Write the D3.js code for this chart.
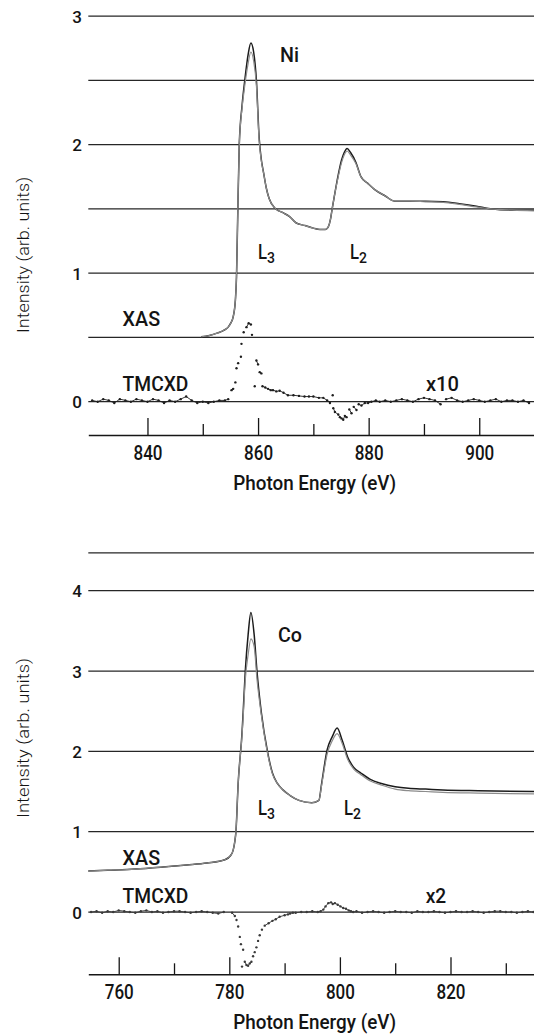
<!DOCTYPE html>
<html><head><meta charset="utf-8">
<script src="https://cdn.jsdelivr.net/npm/d3@7"></script>
<style>
html,body{margin:0;padding:0;background:#fff;}
svg{display:block;}
text{font-family:Roboto,"Open Sans",sans-serif;fill:#141414;}
</style></head>
<body>
<svg id="chart" width="534" height="1035"></svg>
<script>
// ---------------- DATA ----------------
// Ni panel
const niXasE = [849.7,851.2,852.7,853.8,854.6,855.1,855.5,855.9,856.1,856.3,856.6,857.1,857.6,858.2,858.7,859.2,859.7,860.2,860.6,861.0,861.5,862.0,863.2,864.5,865.7,866.9,868.5,870.0,871.2,872.2,872.7,873.1,873.4,873.8,874.3,875.1,875.6,876.1,876.7,877.7,878.6,879.8,881.1,883.0,884.7,887.5,890.3,893.5,896.4,899.5,902.0,906.0,909.9];
const niXasDark = [0.505,0.515,0.535,0.555,0.58,0.615,0.66,0.79,0.97,1.4,2.0,2.3,2.5,2.7,2.79,2.72,2.5,2.05,1.88,1.78,1.66,1.58,1.5,1.47,1.44,1.39,1.37,1.35,1.34,1.34,1.36,1.42,1.5,1.6,1.72,1.88,1.94,1.97,1.94,1.86,1.75,1.7,1.65,1.6,1.56,1.56,1.56,1.555,1.54,1.52,1.5,1.49,1.49];
const niXasGray = [0.505,0.515,0.535,0.555,0.58,0.615,0.66,0.79,0.97,1.4,2.0,2.28,2.46,2.63,2.72,2.65,2.46,2.03,1.87,1.78,1.66,1.58,1.5,1.47,1.44,1.39,1.37,1.35,1.34,1.34,1.36,1.42,1.5,1.6,1.71,1.86,1.92,1.95,1.92,1.85,1.75,1.7,1.65,1.6,1.56,1.56,1.555,1.55,1.535,1.515,1.5,1.49,1.485];
const niDichE = [830,831,832,833,834,835,836,837,838,839,840,841,842,843,844,845,846,847,848,849,850,851,852,853,854,
  854.6,855.2,855.5,855.9,856.1,856.4,856.9,857.0,857.4,857.9,858.3,858.7,858.9,859.4,859.7,860.0,860.3,860.6,860.8,861.3,861.8,862.3,862.7,863.3,863.9,864.6,865.4,866.4,867.4,868.4,869.2,870,871,871.8,872.5,873,873.5,873.6,873.9,874.5,874.8,875.1,875.4,875.7,876,876.5,876.9,877.3,877.8,878.2,878.7,879.3,879.9,880.5,881.3,882,
  883,884,885,886,887,888,889,890,891,892,893,894,895,896,897,898,899,900,901,902,903,904,905,906,907,908,909];
const niDichV = [0.01,0.00,0.02,0.01,-0.01,0.02,0.01,0.00,0.02,0.01,0.00,0.02,0.01,-0.01,0.01,0.00,0.02,0.04,0.01,-0.01,0.00,-0.01,0.00,0.01,0.01,
  0.02,0.09,0.10,0.15,0.26,0.30,0.35,0.45,0.54,0.58,0.61,0.60,0.52,0.12,0.32,0.29,0.23,0.22,0.12,0.11,0.10,0.09,0.09,0.08,0.085,0.07,0.05,0.05,0.045,0.04,0.04,0.04,0.03,0.03,0.01,-0.01,0.05,-0.05,-0.08,-0.10,-0.12,-0.13,-0.14,-0.11,-0.12,-0.06,-0.09,-0.04,-0.065,-0.02,-0.03,-0.01,-0.01,0.00,0.01,0.00,
  0.01,0.00,0.01,0.02,0.01,0.00,0.02,0.03,0.02,0.01,-0.02,0.02,0.03,0.01,0.00,0.01,0.02,0.01,0.00,0.01,0.02,0.00,0.01,0.01,0.00,0.01,-0.01];
const niGrid = [0,0.5,1,1.5,2,2.5,3];
const niYTicks = [0,1,2,3];
const niXMajor = [840,860,880,900];
const niXMinor = [850,870,890];

// Co panel
const coXasE = [754.5,758,763,768,772.3,776,779.2,780.2,780.7,781.0,781.2,781.6,782.3,782.5,782.9,783.4,783.9,784.5,785.0,785.8,786.9,787.8,788.7,789.7,791.0,792.6,794.9,796.2,796.7,797.7,798.6,799.5,800.4,801.4,802.5,803.8,805.5,807.5,810,812.4,815.5,818.6,825,835.1];
const coXasDark = [0.51,0.52,0.535,0.56,0.585,0.61,0.65,0.7,0.77,0.88,1.0,1.6,2.23,2.48,3.01,3.45,3.73,3.45,3.0,2.48,2.0,1.73,1.6,1.52,1.45,1.39,1.36,1.39,1.6,2.02,2.18,2.29,2.14,1.93,1.8,1.73,1.65,1.6,1.56,1.54,1.53,1.52,1.51,1.5];
const coXasGray = [0.51,0.52,0.535,0.56,0.585,0.61,0.65,0.7,0.77,0.88,1.0,1.6,2.2,2.42,2.9,3.2,3.4,3.3,2.9,2.45,1.98,1.72,1.6,1.52,1.45,1.39,1.36,1.39,1.58,1.97,2.13,2.22,2.1,1.9,1.78,1.71,1.63,1.58,1.53,1.51,1.5,1.49,1.48,1.47];
const coDichE = [755,756,757,758,759,760,761,762,763,764,765,766,767,768,769,770,771,772,773,774,775,776,777,778,779,
  780.5,781,781.3,781.6,781.9,782.1,782.3,782.5,782.8,783.1,783.4,783.7,784.0,784.3,784.6,784.9,785.2,785.5,785.9,786.4,787.1,787.8,788.4,789.1,790,790.6,791,791.5,792,793,794,795,796,796.5,797,797.4,797.9,798.4,798.7,799.1,799.6,800.1,800.6,801.1,801.6,802,802.4,
  803,804,805,806,807,808,809,810,811,812,813,814,815,816,817,818,819,820,821,822,823,824,825,826,827,828,829,830,831,832,833,834,835];
const coDichV = [0.00,0.01,-0.01,0.01,0.00,0.02,0.01,0.00,-0.01,0.01,0.02,0.00,0.01,-0.01,0.00,0.01,0.01,0.00,-0.01,0.00,0.01,0.00,-0.01,-0.02,0.00,
  -0.01,-0.05,-0.10,-0.18,-0.31,-0.40,-0.68,-0.47,-0.62,-0.66,-0.67,-0.64,-0.62,-0.55,-0.50,-0.44,-0.36,-0.29,-0.22,-0.17,-0.14,-0.11,-0.09,-0.06,-0.04,-0.03,-0.02,-0.01,-0.01,0.00,0.00,0.01,0.00,0.01,0.03,0.07,0.11,0.12,0.10,0.11,0.09,0.07,0.05,0.04,0.02,0.01,0.00,
  0.01,-0.01,0.00,0.01,0.00,-0.01,0.00,0.01,0.00,0.00,-0.01,0.01,0.00,0.00,0.01,0.00,-0.01,0.00,0.01,0.00,0.00,0.01,0.00,-0.01,0.00,0.01,0.01,0.00,0.00,-0.01,0.00,0.01,0.00];
const coGrid = [0,1,2,3,4,4.47];
const coYTicks = [0,1,2,3,4];
const coXMajor = [760,780,800,820];
const coXMinor = [770,790,810,830];

// ---------------- DRAW ----------------
const svg = d3.select("#chart");
const INK = "#161616";

function panel(cfg){
  const g = svg.append("g");
  const x = d3.scaleLinear().domain(cfg.xDomain).range([88.3, 534]);
  const y = d3.scaleLinear().domain(cfg.yDomain).range(cfg.yRange);

  // gridlines
  g.selectAll("line.grid").data(cfg.grid).join("line")
    .attr("x1", 88.3).attr("x2", 534)
    .attr("y1", d => y(d)).attr("y2", d => y(d))
    .attr("stroke", "#262626").attr("stroke-width", 1.25);

  // y tick labels
  g.selectAll("text.yt").data(cfg.yTicks).join("text")
    .attr("x", 82).attr("y", d => y(d) + 6.5)
    .attr("text-anchor", "end")
    .style("font-size", "17px").style("font-weight", 500)
    .text(d => d);

  // x axis (major ticks with labels, minor ticks without)
  const axMaj = d3.axisBottom(x).tickValues(cfg.xMajor).tickSize(-17).tickSizeOuter(0).tickPadding(10);
  const gMaj = g.append("g").attr("transform", `translate(0,${cfg.axisY})`).call(axMaj);
  gMaj.select(".domain").attr("stroke", INK).attr("stroke-width", 1.6);
  gMaj.selectAll(".tick line").attr("stroke", INK).attr("stroke-width", 1.3);
  gMaj.selectAll(".tick text")
    .attr("fill", INK).attr("y", 25).attr("dy", 0)
    .style("font-size", "20px").style("font-family", "Roboto, sans-serif").style("font-weight", 500)
    .attr("textLength", 29).attr("lengthAdjust", "spacingAndGlyphs");
  const axMin = d3.axisBottom(x).tickValues(cfg.xMinor).tickSize(-11).tickSizeOuter(0).tickFormat("");
  const gMin = g.append("g").attr("transform", `translate(0,${cfg.axisY})`).call(axMin);
  gMin.select(".domain").remove();
  gMin.selectAll(".tick line").attr("stroke", INK).attr("stroke-width", 1.3);

  // x axis title
  g.append("text").attr("x", 314.7).attr("y", cfg.axisY + 55)
    .attr("text-anchor", "middle").style("font-size", "21px").style("font-weight", 500)
    .attr("textLength", 163).attr("lengthAdjust", "spacingAndGlyphs")
    .text("Photon Energy (eV)");

  // y axis title
  g.append("text")
    .attr("transform", `translate(29,${cfg.yLabelY}) rotate(-90)`)
    .attr("text-anchor", "middle")
    .style("font-size", "16px").style("font-weight", 300).attr("fill", "#222")
    .attr("textLength", cfg.yLabelLen).attr("lengthAdjust", "spacingAndGlyphs")
    .text("Intensity (arb. units)");

  // XAS curves
  const line = d3.line().x(d => x(d[0])).y(d => y(d[1])).curve(d3.curveMonotoneX);
  g.append("path").attr("d", line(cfg.xasE.map((e,i)=>[e, cfg.xasDark[i]])))
    .attr("fill", "none").attr("stroke", "#1c1c1c").attr("stroke-width", 1.5);
  g.append("path").attr("d", line(cfg.xasE.map((e,i)=>[e, cfg.xasGray[i]])))
    .attr("fill", "none").attr("stroke", "#8c8c8c").attr("stroke-width", 1.2);

  // TMCXD: dots, joined only where neighbouring points are close
  const pts = cfg.dichE.map((e,i)=>[e, cfg.dichV[i]]).sort((a,b)=>a[0]-b[0]);
  const segs = [];
  for (let i=1;i<pts.length;i++){
    const a = pts[i-1], b = pts[i];
    if (Math.abs(y(a[1]) - y(b[1])) < 4 && Math.abs(x(a[0]) - x(b[0])) < 7) segs.push([a,b]);
  }
  g.selectAll("line.seg").data(segs).join("line")
    .attr("x1", d => x(d[0][0])).attr("y1", d => y(d[0][1]))
    .attr("x2", d => x(d[1][0])).attr("y2", d => y(d[1][1]))
    .attr("stroke", cfg.dotColor).attr("stroke-width", 0.9);
  g.selectAll("circle.dot").data(pts).join("circle")
    .attr("cx", d => x(d[0])).attr("cy", d => y(d[1])).attr("r", 1.2)
    .attr("fill", cfg.dotColor);

  // annotations
  const lab = (txt, xx, yy, len) => {
    const t = g.append("text").attr("x", xx).attr("y", yy).style("font-size", "21px").style("font-weight", 500).text(txt);
    if (len) t.attr("textLength", len).attr("lengthAdjust", "spacingAndGlyphs");
    return t;
  };
  lab(cfg.elem, cfg.elemX, cfg.elemY, cfg.elemLen);
  lab("XAS", 122.6, cfg.xasLabY, 37.5);
  lab("TMCXD", 122.6, cfg.tmLabY, 65.8);
  lab(cfg.mult, cfg.multX, cfg.tmLabY, cfg.multLen);
  const L = (sub, xx, yy) => {
    const t = g.append("text").attr("x", xx).attr("y", yy).style("font-size", "20px").style("font-weight", 500);
    t.append("tspan").text("L").attr("textLength", 9).attr("lengthAdjust","spacingAndGlyphs");
    t.append("tspan").attr("dy", 4).style("font-size", "14px").text(sub);
  };
  L("3", cfg.L3x, cfg.Ly);
  L("2", cfg.L2x, cfg.Ly);
}

panel({
  xDomain: [829.3, 909.9], yDomain: [0, 3], yRange: [401.7, 16], axisY: 435,
  grid: niGrid, yTicks: niYTicks, xMajor: niXMajor, xMinor: niXMinor,
  xasE: niXasE, xasDark: niXasDark, xasGray: niXasGray,
  dichE: niDichE, dichV: niDichV, dotColor: "#1e1e1e",
  yLabelY: 255, yLabelLen: 156,
  elem: "Ni", elemX: 280, elemY: 62, elemLen: 19,
  xasLabY: 326, tmLabY: 391, mult: "x10", multX: 426, multLen: 33,
  L3x: 258, L2x: 350, Ly: 259
});

panel({
  xDomain: [754.5, 835.1], yDomain: [0, 4], yRange: [912, 590.7], axisY: 974.3,
  grid: coGrid, yTicks: coYTicks, xMajor: coXMajor, xMinor: coXMinor,
  xasE: coXasE, xasDark: coXasDark, xasGray: coXasGray,
  dichE: coDichE, dichV: coDichV, dotColor: "#3a3a3a",
  yLabelY: 738, yLabelLen: 160,
  elem: "Co", elemX: 278, elemY: 642, elemLen: 24,
  xasLabY: 865, tmLabY: 903, mult: "x2", multX: 425.7, multLen: 20.5,
  L3x: 258, L2x: 344, Ly: 815
});
</script>
</body></html>
